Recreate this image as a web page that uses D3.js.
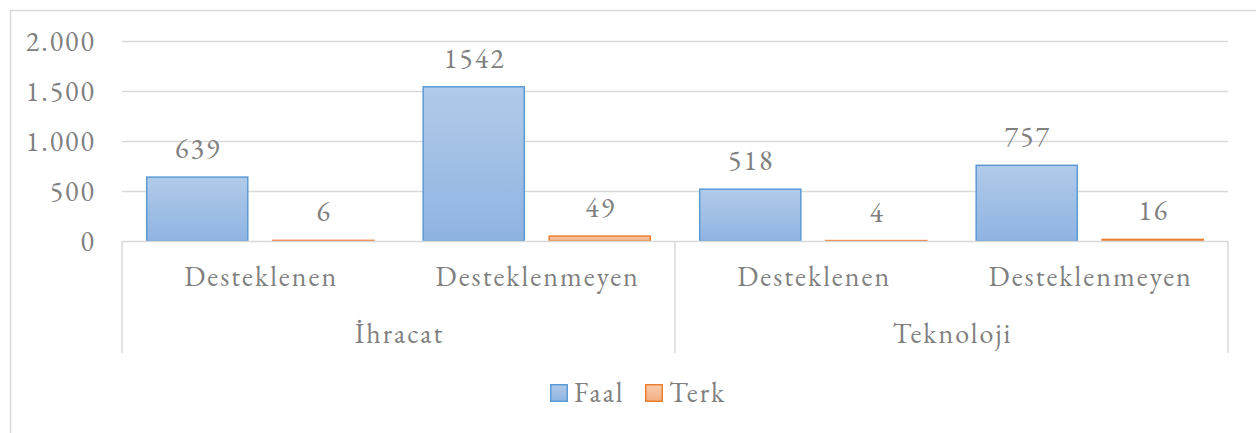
<!DOCTYPE html>
<html><head><meta charset="utf-8">
<script src="https://cdn.jsdelivr.net/npm/d3@7"></script>
<style>
html,body{margin:0;padding:0;background:#fff;}
svg{display:block;}
text{font-family:"EB Garamond",Garamond,"Liberation Serif","DejaVu Serif",serif;fill:#808080;letter-spacing:2px;}
</style></head>
<body>
<script>
const groups = ["İhracat", "Teknoloji"];
const subcats = ["Desteklenen", "Desteklenmeyen"];
const series = ["Faal", "Terk"];
const faal = [639, 1542, 518, 757];
const terk = [6, 49, 4, 16];
const yTicks = [0, 500, 1000, 1500, 2000];

const W = 1256, H = 433;
const plotL = 122, plotR = 1228, plotT = 41, base = 241;
const svg = d3.select("body").append("svg").attr("width", W).attr("height", H);

const defs = svg.append("defs");
function grad(id, c1, c2) {
  const g = defs.append("linearGradient").attr("id", id).attr("x1", 0).attr("y1", 0).attr("x2", 0).attr("y2", 1);
  g.append("stop").attr("offset", "0%").attr("stop-color", c1);
  g.append("stop").attr("offset", "100%").attr("stop-color", c2);
}
grad("gFaal", "#b1cbe9", "#8fb3e2");
grad("gTerk", "#f8cbad", "#f3ae80");
const fills = ["url(#gFaal)", "url(#gTerk)"];
const strokes = ["#5b9bd5", "#ed7d31"];

// outer border
svg.append("path").attr("d", `M10.5,${H}V10.5H${W}`).attr("fill", "none").attr("stroke", "#d9d9d9").attr("stroke-width", 1.5);

const y = d3.scaleLinear().domain([0, 2000]).range([base, plotT]);
const loc = d3.formatLocale({decimal: ",", thousands: ".", grouping: [3], currency: ["", ""]});
const fmt = loc.format(",");

// gridlines
svg.append("g").selectAll("line").data(yTicks.filter(d => d > 0)).join("line")
  .attr("x1", plotL).attr("x2", plotR)
  .attr("y1", d => Math.round(y(d)) + 0.5).attr("y2", d => Math.round(y(d)) + 0.5)
  .attr("stroke", "#d9d9d9").attr("stroke-width", 1.5);

// y axis labels
const yAxis = d3.axisLeft(y).tickValues(yTicks).tickFormat(fmt).tickSize(0).tickPadding(26);
const ya = svg.append("g").attr("transform", `translate(${plotL},0)`).call(yAxis);
ya.select(".domain").remove();
ya.selectAll("text").attr("font-size", 28).attr("fill", "#808080")
  .style("font-family", '"EB Garamond",Garamond,"Liberation Serif",serif').attr("dy", "0.34em");

// category scales
const keys = [];
groups.forEach(g => subcats.forEach(s => keys.push(g + "|" + s)));
const x0 = d3.scaleBand().domain(groups).range([plotL, plotR]);
const x1 = d3.scaleBand().domain(keys).range([plotL, plotR]);
const x2 = d3.scaleBand().domain(series).range([0, x1.bandwidth()]).paddingInner(0.198).paddingOuter(0.196);

// bars
const vals = [faal, terk];
series.forEach((s, si) => {
  svg.append("g").selectAll("rect").data(vals[si]).join("rect")
    .attr("x", (d, i) => x1(keys[i]) + x2(s))
    .attr("width", x2.bandwidth())
    .attr("y", d => y(d))
    .attr("height", d => base - y(d))
    .attr("fill", fills[si]).attr("stroke", strokes[si]).attr("stroke-width", 1.5);
  svg.append("g").selectAll("text").data(vals[si]).join("text")
    .attr("x", (d, i) => x1(keys[i]) + x2(s) + x2.bandwidth() / 2 + 1)
    .attr("y", d => y(d) - 19)
    .attr("text-anchor", "middle").attr("font-size", 28)
    .text(d => d);
});

// category axis
svg.append("line").attr("x1", plotL).attr("x2", plotR).attr("y1", base + 0.5).attr("y2", base + 0.5)
  .attr("stroke", "#d9d9d9").attr("stroke-width", 1.5);
const seps = [plotL, ...groups.slice(1).map(g => x0(g)), plotR];
svg.append("g").selectAll("line").data(seps).join("line")
  .attr("x1", d => d).attr("x2", d => d).attr("y1", base).attr("y2", 353)
  .attr("stroke", "#d9d9d9").attr("stroke-width", 1.5);
svg.append("g").selectAll("text").data(keys).join("text")
  .attr("x", d => x1(d) + x1.bandwidth() / 2 + 1).attr("y", 286)
  .attr("text-anchor", "middle").attr("font-size", 28)
  .text(d => d.split("|")[1]);
svg.append("g").selectAll("text").data(groups).join("text")
  .attr("x", d => x0(d) + x0.bandwidth() / 2 + 1).attr("y", 343)
  .attr("text-anchor", "middle").attr("font-size", 28)
  .text(d => d);

// legend
const lg = svg.append("g");
const lx = [550, 645];
series.forEach((s, i) => {
  lg.append("rect").attr("x", lx[i] + 0.75).attr("y", 384.75).attr("width", 16.5).attr("height", 16.5)
    .attr("fill", fills[i]).attr("stroke", strokes[i]).attr("stroke-width", 1.5);
  lg.append("text").attr("x", lx[i] + 24).attr("y", 402).attr("font-size", 28).text(s);
});
</script>
</body></html>
